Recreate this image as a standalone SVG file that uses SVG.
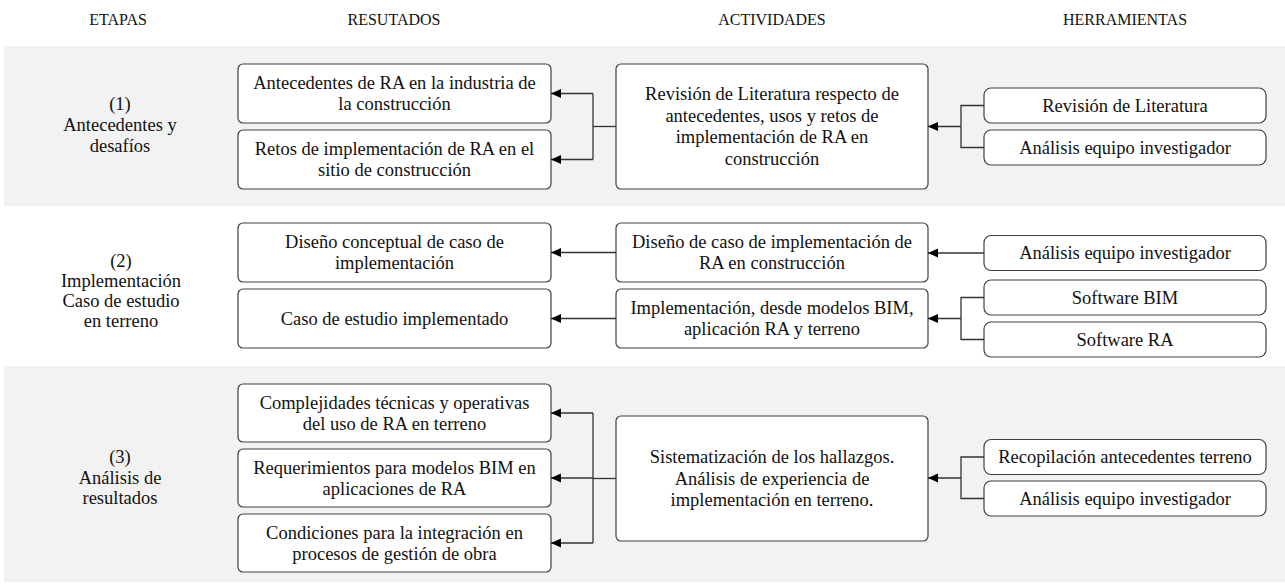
<svg xmlns="http://www.w3.org/2000/svg" width="1285" height="587" viewBox="0 0 1285 587">
<style>
text{font-family:"Liberation Serif","Times New Roman",serif;font-size:18.5px;fill:#111;text-anchor:middle}
.hdr{font-size:16px}
.box{fill:#fff;stroke:#404040;stroke-width:1.2}
.conn{fill:none;stroke:#333;stroke-width:1.3}
</style>
<defs>
<marker id="arr" markerUnits="userSpaceOnUse" markerWidth="11" markerHeight="10" refX="10" refY="4.5" orient="auto">
<path d="M0,0 L10,4.5 L0,9 z" fill="#000"/>
</marker>
</defs>
<rect x="4" y="46" width="1281" height="160" fill="#f2f2f2"/>
<rect x="4" y="366" width="1281" height="216" fill="#f2f2f2"/>
<g id="headers">
<text class="hdr" x="118" y="25">ETAPAS</text>
<text class="hdr" x="394" y="25">RESUTADOS</text>
<text class="hdr" x="772" y="25">ACTIVIDADES</text>
<text class="hdr" x="1125" y="25">HERRAMIENTAS</text>
</g>
<g id="etapa1"><text x="120" y="110">(1)</text><text x="120" y="131">Antecedentes y</text><text x="120" y="152">desafíos</text></g>
<g id="etapa2"><text x="121" y="267">(2)</text><text x="121" y="287">Implementación</text><text x="121" y="307">Caso de estudio</text><text x="121" y="327">en terreno</text></g>
<g id="etapa3"><text x="120" y="463">(3)</text><text x="120" y="483.5">Análisis de</text><text x="120" y="504">resultados</text></g>

<g id="res1a"><rect class="box" x="238" y="64" width="313" height="59" rx="5"/><text x="394.5" y="89">Antecedentes de RA en la industria de</text><text x="394.5" y="110">la construcción</text></g>
<g id="res1b"><rect class="box" x="238" y="130" width="313" height="59" rx="5"/><text x="394.5" y="155">Retos de implementación de RA en el</text><text x="394.5" y="176">sitio de construcción</text></g>
<g id="res2a"><rect class="box" x="238" y="223" width="313" height="59" rx="5"/><text x="394.5" y="248">Diseño conceptual de caso de</text><text x="394.5" y="269">implementación</text></g>
<g id="res2b"><rect class="box" x="238" y="289" width="313" height="59" rx="5"/><text x="394.5" y="324.5">Caso de estudio implementado</text></g>
<g id="res3a"><rect class="box" x="238" y="384" width="313" height="58" rx="5"/><text x="394.5" y="408.5">Complejidades técnicas y operativas</text><text x="394.5" y="429.5">del uso de RA en terreno</text></g>
<g id="res3b"><rect class="box" x="238" y="449" width="313" height="58" rx="5"/><text x="394.5" y="473.5">Requerimientos para modelos BIM en</text><text x="394.5" y="494.5">aplicaciones de RA</text></g>
<g id="res3c"><rect class="box" x="238" y="514" width="313" height="58" rx="5"/><text x="394.5" y="538.5">Condiciones para la integración en</text><text x="394.5" y="559.5">procesos de gestión de obra</text></g>

<g id="act1"><rect class="box" x="616" y="64" width="312" height="125" rx="5"/><text x="772" y="100">Revisión de Literatura respecto de</text><text x="772" y="122">antecedentes, usos y retos de</text><text x="772" y="143">implementación de RA en</text><text x="772" y="165">construcción</text></g>
<g id="act2a"><rect class="box" x="616" y="223" width="312" height="59" rx="5"/><text x="772" y="248">Diseño de caso de implementación de</text><text x="772" y="269">RA en construcción</text></g>
<g id="act2b"><rect class="box" x="616" y="289" width="312" height="59" rx="5"/><text x="772" y="314">Implementación, desde modelos BIM,</text><text x="772" y="335">aplicación RA y terreno</text></g>
<g id="act3"><rect class="box" x="616" y="416" width="312" height="125" rx="5"/><text x="772" y="463">Sistematización de los hallazgos.</text><text x="772" y="484.5">Análisis de experiencia de</text><text x="772" y="506">implementación en terreno.</text></g>

<g id="tool1a"><rect class="box" x="984" y="88" width="282" height="35" rx="7"/><text x="1125" y="111.5">Revisión de Literatura</text></g>
<g id="tool1b"><rect class="box" x="984" y="130" width="282" height="35" rx="7"/><text x="1125" y="153.5">Análisis equipo investigador</text></g>
<g id="tool2a"><rect class="box" x="984" y="235.5" width="282" height="35" rx="7"/><text x="1125" y="259">Análisis equipo investigador</text></g>
<g id="tool2b"><rect class="box" x="984" y="280" width="282" height="35" rx="7"/><text x="1125" y="303.5">Software BIM</text></g>
<g id="tool2c"><rect class="box" x="984" y="322" width="282" height="35" rx="7"/><text x="1125" y="345.5">Software RA</text></g>
<g id="tool3a"><rect class="box" x="984" y="439.5" width="282" height="35" rx="7"/><text x="1125" y="463">Recopilación antecedentes terreno</text></g>
<g id="tool3b"><rect class="box" x="984" y="481" width="282" height="35" rx="7"/><text x="1125" y="504.5">Análisis equipo investigador</text></g>

<g id="connectors">
<path class="conn" d="M616,126.5 H593"/>
<path class="conn" d="M593,93.5 V159.5"/>
<path class="conn" d="M593,93.5 H551" marker-end="url(#arr)"/>
<path class="conn" d="M593,159.5 H551" marker-end="url(#arr)"/>
<path class="conn" d="M984,105.5 H961 V147.5 H984"/>
<path class="conn" d="M961,126.5 H928" marker-end="url(#arr)"/>
<path class="conn" d="M616,252.5 H551" marker-end="url(#arr)"/>
<path class="conn" d="M616,318.5 H551" marker-end="url(#arr)"/>
<path class="conn" d="M984,253 H928" marker-end="url(#arr)"/>
<path class="conn" d="M984,297.5 H961 V339.5 H984"/>
<path class="conn" d="M961,318.5 H928" marker-end="url(#arr)"/>
<path class="conn" d="M616,478.5 H593"/>
<path class="conn" d="M593,413 V543"/>
<path class="conn" d="M593,413 H551" marker-end="url(#arr)"/>
<path class="conn" d="M593,478 H551" marker-end="url(#arr)"/>
<path class="conn" d="M593,543 H551" marker-end="url(#arr)"/>
<path class="conn" d="M984,457 H961 V498.5 H984"/>
<path class="conn" d="M961,478 H928" marker-end="url(#arr)"/>
</g>
</svg>
